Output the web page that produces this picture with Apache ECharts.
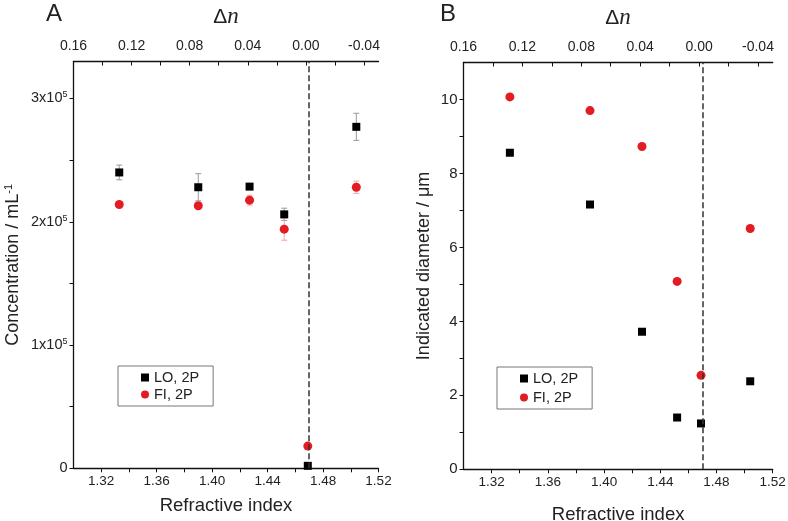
<!DOCTYPE html>
<html>
<head>
<meta charset="utf-8">
<script src="https://cdn.jsdelivr.net/npm/echarts@6.0.0/dist/echarts.min.js"></script>
</head>
<body style="margin:0; padding:0; background:#fff;">
<div id="chart" style="width:788px; height:521px;"></div>
<script type="text/javascript">
// refractive index of the suspending media (bottom axis)
const refractiveIndex = [1.333, 1.390, 1.427, 1.452, 1.469, 1.504];
const particleIndex = 1.469; // delta n = 0

// panel A : concentration (per mL)
const concLO = [2.40e5, 2.28e5, 2.285e5, 2.06e5, 0.02e5, 2.77e5];
const concLOErr = [0.06e5, 0.11e5, 0.02e5, 0.05e5, 0.01e5, 0.11e5];
const concFI = [2.14e5, 2.13e5, 2.175e5, 1.94e5, 0.18e5, 2.28e5];
const concFIErr = [0.02e5, 0.02e5, 0.04e5, 0.09e5, 0.01e5, 0.05e5];

// panel B : indicated diameter (um)
const diamLO = [8.56, 7.16, 3.72, 1.40, 1.24, 2.38];
const diamFI = [10.07, 9.70, 8.73, 5.08, 2.54, 6.51];

// tick values and labels
const nTicks = [1.32, 1.34, 1.36, 1.38, 1.40, 1.42, 1.44, 1.46, 1.48, 1.50, 1.52];
const nLabels = [1.32, 1.36, 1.40, 1.44, 1.48, 1.52];
const dnTicks = [0.16, 0.14, 0.12, 0.10, 0.08, 0.06, 0.04, 0.02, 0, -0.02, -0.04];
const dnLabels = [0.16, 0.12, 0.08, 0.04, 0, -0.04];
const concTicks = [0, 0.5e5, 1e5, 1.5e5, 2e5, 2.5e5, 3e5];
const concLabels = [0, 1e5, 2e5, 3e5];
const diamTicks = [0, 1, 2, 3, 4, 5, 6, 7, 8, 9, 10];
const diamLabels = [0, 2, 4, 6, 8, 10];

const FONT = 'Liberation Sans, Arial, sans-serif';
const RED = '#e31b23';

const pairs = (xs, ys) => xs.map((x, i) => [x, ys[i]]);
const errData = (xs, ys, es) => xs.map((x, i) => [x, ys[i] - es[i], ys[i] + es[i]]);

function errorBars(color) {
  return function (params, api) {
    const x = api.value(0);
    const top = api.coord([x, api.value(2)]);
    const bot = api.coord([x, api.value(1)]);
    const st = { stroke: color, lineWidth: 1 };
    return {
      type: 'group',
      children: [
        { type: 'line', shape: { x1: top[0], y1: top[1], x2: bot[0], y2: bot[1] }, style: st },
        { type: 'line', shape: { x1: top[0] - 3, y1: top[1], x2: top[0] + 3, y2: top[1] }, style: st },
        { type: 'line', shape: { x1: bot[0] - 3, y1: bot[1], x2: bot[0] + 3, y2: bot[1] }, style: st }
      ]
    };
  };
}

const axisLine = { show: true, onZero: false, lineStyle: { color: '#111', width: 1.3 } };

function bottomAxis(gi) {
  return {
    type: 'value', gridIndex: gi, position: 'bottom', min: 1.30, max: 1.52,
    name: 'Refractive index', nameLocation: 'middle', nameGap: gi === 0 ? 28 : 36,
    nameTextStyle: { fontFamily: FONT, fontSize: 18.5, color: '#222' },
    axisLine: axisLine,
    axisTick: { show: true, length: 4, customValues: nTicks, lineStyle: { color: '#111' } },
    axisLabel: { customValues: nLabels, formatter: v => v.toFixed(2), fontFamily: FONT, fontSize: 13.5, color: '#222', margin: 6 },
    splitLine: { show: false }
  };
}

function topAxis(gi) {
  return {
    type: 'value', gridIndex: gi, position: 'top', inverse: true, min: -0.05, max: 0.16,
    name: '{d|Δ}{n|n}', nameLocation: 'middle', nameGap: 33,
    nameTextStyle: { rich: {
      d: { fontFamily: FONT, fontSize: 21, color: '#222' },
      n: { fontFamily: 'Liberation Serif, Times New Roman, serif', fontStyle: 'italic', fontSize: 23, color: '#222' }
    } },
    axisLine: axisLine,
    axisTick: { show: true, inside: true, length: 4, customValues: dnTicks, lineStyle: { color: '#111' } },
    axisLabel: { customValues: dnLabels, formatter: v => (Math.abs(v) < 1e-9 ? 0 : v).toFixed(2), fontFamily: FONT, fontSize: 14, color: '#222', margin: 8 },
    splitLine: { show: false }
  };
}

const supRich = {
  m: { fontFamily: FONT, fontSize: 14.5, color: '#222' },
  s: { fontFamily: FONT, fontSize: 9, color: '#222', verticalAlign: 'top', padding: [0, 0, 7, 0] }
};

const dashed = {
  silent: true, symbol: 'none', animation: false,
  label: { show: false },
  lineStyle: { type: 'dashed', color: '#333', width: 1.5 },
  data: [{ xAxis: particleIndex }]
};

function legendFor(left, top, gap) {
  return {
    orient: 'vertical', left: left, top: top, itemGap: gap,
    data: ['LO, 2P', 'FI, 2P'],
    itemWidth: 8, itemHeight: 8,
    padding: [4, 14, 4, 23],
    borderColor: '#777', borderWidth: 1,
    itemStyle: { opacity: 1 },
    textStyle: { fontFamily: FONT, fontSize: 14.5, color: '#222' }
  };
}

const option = {
  animation: false,
  backgroundColor: '#fff',
  title: [
    { text: 'A', left: 41, top: -3, textStyle: { fontFamily: FONT, fontSize: 24, fontWeight: 'normal', color: '#222' } },
    { text: 'B', left: 435, top: -3, textStyle: { fontFamily: FONT, fontSize: 24, fontWeight: 'normal', color: '#222' } }
  ],
  legend: [legendFor(118, 366, 2), legendFor(497, 367, 4)],
  grid: [
    { left: 73.5, right: 409.5, top: 61.5, bottom: 52.7, outerBoundsMode: 'none' },
    { left: 463.5, right: 15.3, top: 62.5, bottom: 51.7, outerBoundsMode: 'none' }
  ],
  xAxis: [bottomAxis(0), topAxis(0), bottomAxis(1), topAxis(1)],
  yAxis: [
    {
      type: 'value', gridIndex: 0, min: 0, max: 3.3e5,
      name: 'Concentration / mL{s|-1}', nameLocation: 'middle', nameGap: 50,
      nameTextStyle: { fontFamily: FONT, fontSize: 18, color: '#222', rich: {
        s: { fontFamily: FONT, fontSize: 11, color: '#222', verticalAlign: 'top', padding: [0, 0, 9, 0] }
      } },
      axisLine: axisLine,
      axisTick: { show: true, length: 4, customValues: concTicks, lineStyle: { color: '#111' } },
      axisLabel: {
        customValues: concLabels, margin: 6, rich: supRich,
        formatter: v => v === 0 ? '{m|0}' : '{m|' + Math.round(v / 1e5) + 'x10}{s|5}'
      },
      splitLine: { show: false }
    },
    {
      type: 'value', gridIndex: 1, min: 0, max: 11,
      name: 'Indicated diameter / μm', nameLocation: 'middle', nameGap: 30,
      nameTextStyle: { fontFamily: FONT, fontSize: 18, color: '#222' },
      axisLine: axisLine,
      axisTick: { show: true, length: 4, customValues: diamTicks, lineStyle: { color: '#111' } },
      axisLabel: { customValues: diamLabels, margin: 6, fontFamily: FONT, fontSize: 15, color: '#222' },
      splitLine: { show: false }
    }
  ],
  series: [
    {
      name: 'LO err', type: 'custom', xAxisIndex: 0, yAxisIndex: 0, z: 1,
      renderItem: errorBars('#9a9a9a'), encode: { x: 0, y: [1, 2] },
      data: errData(refractiveIndex, concLO, concLOErr)
    },
    {
      name: 'FI err', type: 'custom', xAxisIndex: 0, yAxisIndex: 0, z: 1,
      renderItem: errorBars('#f2a5a5'), encode: { x: 0, y: [1, 2] },
      data: errData(refractiveIndex, concFI, concFIErr)
    },
    {
      name: 'LO, 2P', type: 'scatter', xAxisIndex: 0, yAxisIndex: 0, z: 3,
      symbol: 'rect', symbolSize: 8, itemStyle: { color: '#000', opacity: 1 },
      data: pairs(refractiveIndex, concLO),
      markLine: dashed
    },
    {
      name: 'FI, 2P', type: 'scatter', xAxisIndex: 0, yAxisIndex: 0, z: 4,
      symbol: 'circle', symbolSize: 9, itemStyle: { color: RED, opacity: 1 },
      data: pairs(refractiveIndex, concFI)
    },
    {
      name: 'LO, 2P', type: 'scatter', xAxisIndex: 2, yAxisIndex: 1, z: 3,
      symbol: 'rect', symbolSize: 8, itemStyle: { color: '#000', opacity: 1 },
      data: pairs(refractiveIndex, diamLO),
      markLine: dashed
    },
    {
      name: 'FI, 2P', type: 'scatter', xAxisIndex: 2, yAxisIndex: 1, z: 4,
      symbol: 'circle', symbolSize: 9, itemStyle: { color: RED, opacity: 1 },
      data: pairs(refractiveIndex, diamFI)
    }
  ]
};

const myChart = echarts.init(document.getElementById('chart'));
myChart.setOption(option);
window.onresize = function () { myChart.resize(); };
</script>
</body>
</html>
